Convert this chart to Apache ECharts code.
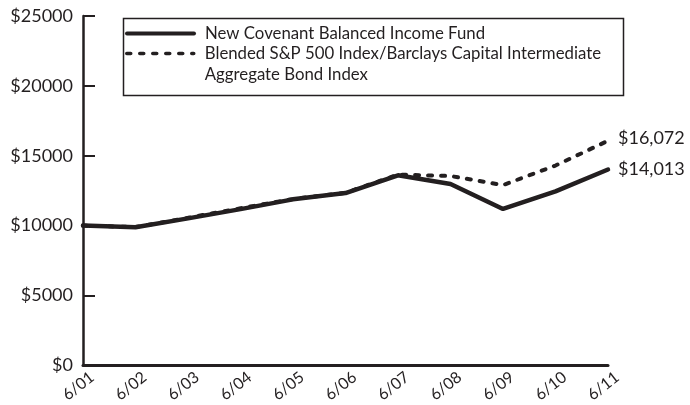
<!DOCTYPE html>
<html><head><meta charset="utf-8">
<script src="https://cdn.jsdelivr.net/npm/echarts@6/dist/echarts.min.js"></script>
<style>html,body{margin:0;padding:0;background:#fff}#c{width:690px;height:405px}</style>
</head><body><div id="c"></div>
<script>
const categories = ['6/01','6/02','6/03','6/04','6/05','6/06','6/07','6/08','6/09','6/10','6/11'];
const fundName = 'New Covenant Balanced Income Fund';
const indexName = 'Blended S&P 500 Index/Barclays Capital Intermediate\nAggregate Bond Index';
const fundValues = [10000, 9880, 10520, 11180, 11880, 12330, 13600, 12980, 11190, 12450, 14013];
const indexValues = [10000, 9900, 10560, 11240, 11900, 12350, 13650, 13550, 12900, 14300, 16072];
const yTicks = [0, 5000, 10000, 15000, 20000, 25000];

const ink = '#231f20';
const font = 'Lato, "Open Sans", sans-serif';
const fmtMoney = v => '$' + v.toLocaleString('en-US');

const legendText = {fontFamily: font, fontSize: 16.8, color: ink, lineHeight: 21, padding: [0, 0, 0, 6]};

const chart = echarts.init(document.getElementById('c'), null, {renderer: 'canvas'});
chart.setOption({
  animation: false,
  textStyle: {fontFamily: font, color: ink},
  grid: {left: 83, right: 82, top: 16, bottom: 39, containLabel: false},
  legend: [
    {
      data: [fundName],
      left: 125, top: 23, padding: 0, orient: 'vertical',
      itemWidth: 67, itemHeight: 14, selectedMode: false,
      itemStyle: {opacity: 0},
      lineStyle: {width: 4},
      textStyle: legendText
    },
    {
      data: [indexName],
      left: 125, top: 22, padding: 0, orient: 'vertical',
      itemWidth: 67, itemHeight: 14, selectedMode: false,
      itemStyle: {opacity: 0},
      lineStyle: {width: 3.5},
      formatter: name => ' \n' + name,
      textStyle: legendText
    }
  ],
  graphic: [{
    type: 'rect', left: 121, top: 16, silent: true, z: 100,
    shape: {width: 500, height: 77},
    style: {fill: null, stroke: ink, lineWidth: 1.5}
  }],
  xAxis: {
    type: 'category', data: categories, boundaryGap: false,
    axisLine: {lineStyle: {color: ink, width: 3}},
    axisTick: {show: false},
    axisLabel: {interval: 0, rotate: 38, fontSize: 16, color: ink, fontFamily: font, margin: 17,
      align: 'center', verticalAlign: 'middle', padding: [0, 12, 0, 0]},
    splitLine: {show: false}
  },
  yAxis: {
    type: 'value', min: 0, max: 25000, interval: 5000,
    axisLine: {show: true, lineStyle: {color: ink, width: 2.5}},
    axisTick: {show: true, inside: true, length: 12, lineStyle: {color: ink, width: 2}},
    axisLabel: {formatter: v => '$' + v, fontSize: 18, color: ink, fontFamily: font, margin: 10,
      customValues: yTicks},
    splitLine: {show: false}
  },
  series: [
    {
      name: indexName, type: 'line', data: indexValues, symbol: 'none', z: 2,
      lineStyle: {color: ink, width: 4, type: [4, 9], cap: 'round'},
      itemStyle: {color: ink},
      endLabel: {show: true, formatter: p => fmtMoney(p.value), fontSize: 18, color: ink, fontFamily: font, distance: 10, offset: [0, -3]}
    },
    {
      name: fundName, type: 'line', data: fundValues, symbol: 'none', z: 3,
      lineStyle: {color: ink, width: 4.5, cap: 'round'},
      itemStyle: {color: ink},
      endLabel: {show: true, formatter: p => fmtMoney(p.value), fontSize: 18, color: ink, fontFamily: font, distance: 10}
    }
  ]
});
</script></body></html>
